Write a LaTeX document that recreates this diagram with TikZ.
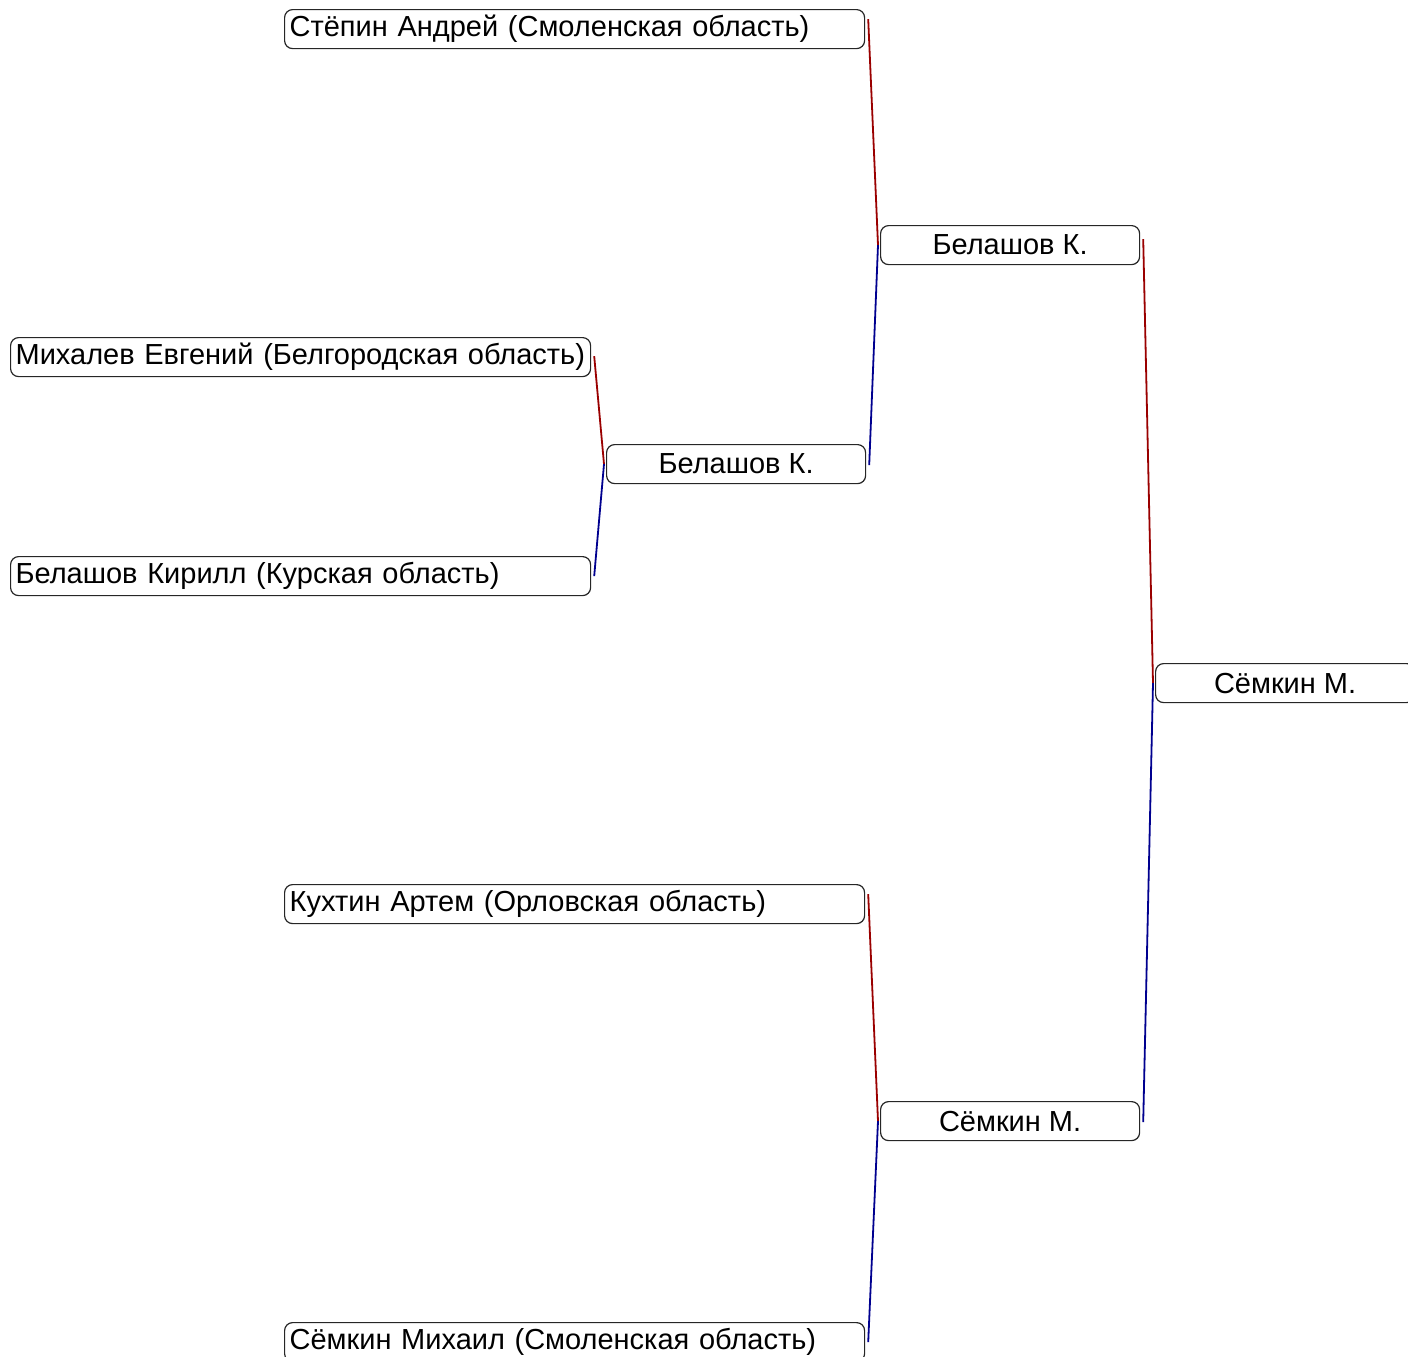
\documentclass[tikz,border=0pt]{standalone}
\usepackage{fontspec}
\setmainfont{Liberation Sans}
\usetikzlibrary{calc}
\definecolor{wred}{HTML}{9A0000}
\definecolor{wblue}{HTML}{00008F}
\tikzset{
  pbox/.style={draw=black!85, line width=1.2pt, rounded corners=8pt, anchor=north west,
    minimum height=39pt, inner xsep=5pt, inner ysep=0pt, font=\fontsize{29}{32}\selectfont},
  firstbox/.style={pbox, text width=570pt, align=left, minimum width=580pt},
  winbox/.style={pbox, minimum width=259pt, align=center},
  redline/.style={draw=wred, line width=1.8pt},
  blueline/.style={draw=wblue, line width=1.8pt}
}
\begin{document}
\begin{tikzpicture}[x=1pt,y=-1pt]
\useasboundingbox (0,0) rectangle (1408,1357);
% first round
\node[firstbox] (stepin) at (284,9) {Стёпин Андрей (Смоленская область)};
\node[firstbox] (mihalev) at (10,337) {Михалев Евгений (Белгородская область)};
\node[firstbox] (belkir) at (10,556) {Белашов Кирилл (Курская область)};
\node[firstbox] (kuhtin) at (284,884) {Кухтин Артем (Орловская область)};
\node[firstbox] (semmih) at (284,1322) {Сёмкин Михаил (Смоленская область)};
% later rounds
\node[winbox] (belA) at (606,444) {Белашов К.};
\node[winbox] (belB) at (880,225) {Белашов К.};
\node[winbox] (semA) at (880,1101) {Сёмкин М.};
\node[winbox] (final) at (1155,663) {Сёмкин М.};
% connectors
\draw[redline] ($(stepin.east)+(3,-10)$) -- ($(belB.west)+(-2,0)$);
\draw[blueline] ($(belA.east)+(3,1)$) -- ($(belB.west)+(-2,0)$);
\draw[redline] ($(mihalev.east)+(3,-1)$) -- ($(belA.west)+(-2,0)$);
\draw[blueline] ($(belkir.east)+(3,0)$) -- ($(belA.west)+(-2,0)$);
\draw[redline] ($(kuhtin.east)+(3,-10)$) -- ($(semA.west)+(-2,0)$);
\draw[blueline] ($(semmih.east)+(3,0)$) -- ($(semA.west)+(-2,0)$);
\draw[redline] ($(belB.east)+(3,-6)$) -- ($(final.west)+(-2,0)$);
\draw[blueline] ($(semA.east)+(3,1)$) -- ($(final.west)+(-2,0)$);
\end{tikzpicture}
\end{document}
